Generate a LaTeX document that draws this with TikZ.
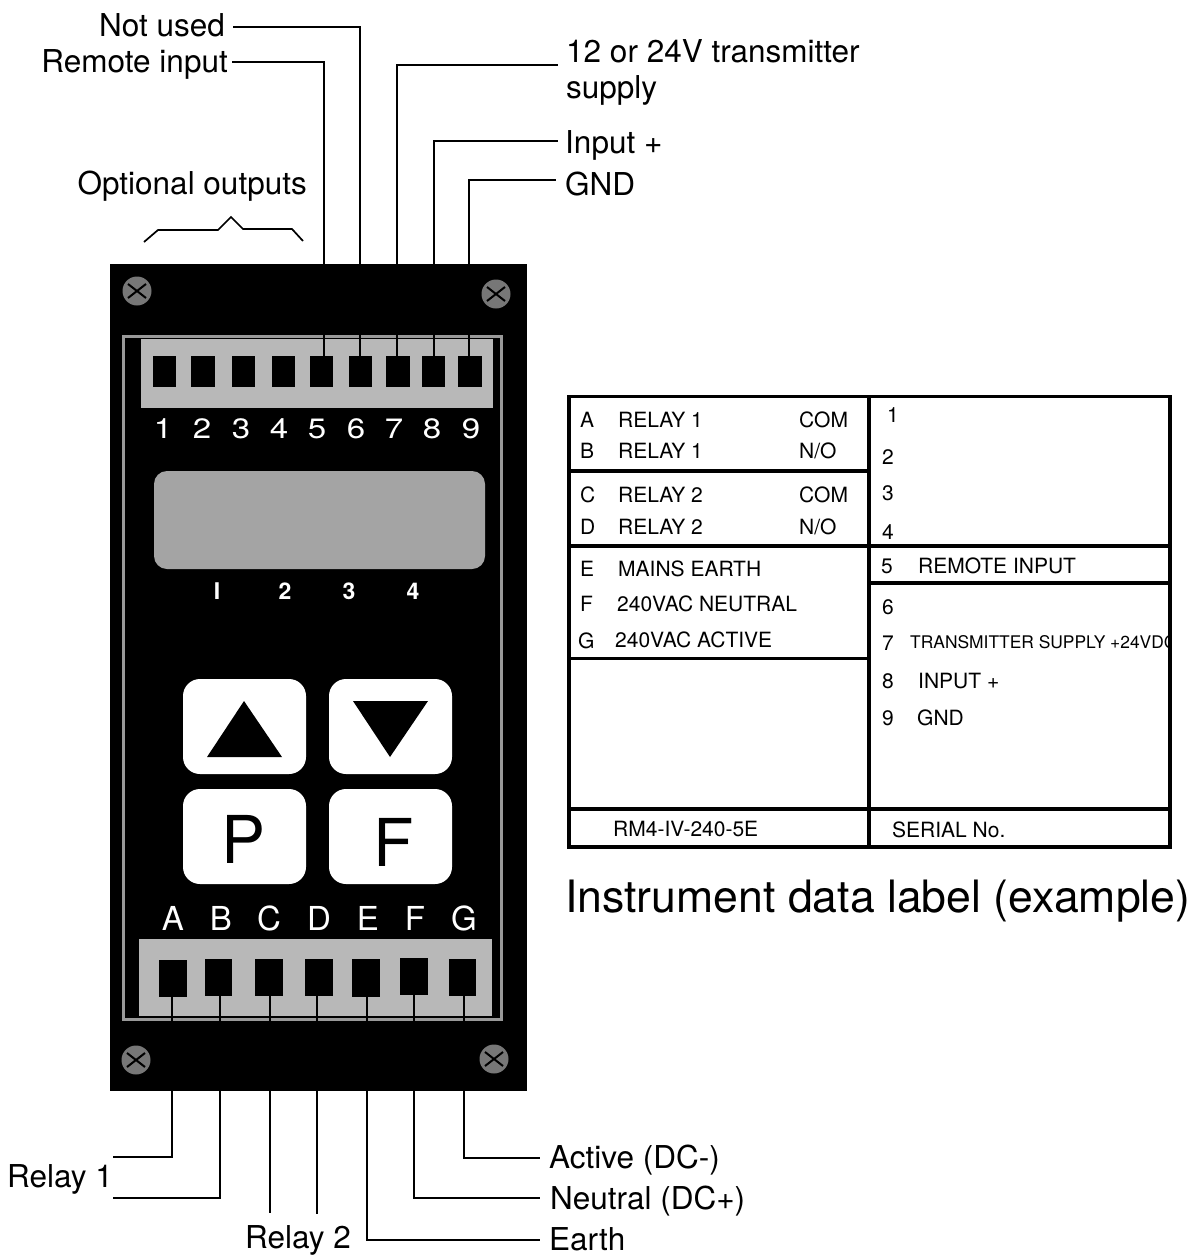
\documentclass[tikz,border=0pt]{standalone}
\usepackage{fontspec}
\setmainfont{TeX Gyre Heros}
\newfontfamily\widefont[FakeStretch=1.18]{TeX Gyre Heros}
\newcommand{\fsz}[1]{\fontsize{#1}{#1}\selectfont}
\definecolor{termgrey}{HTML}{B8B8B8}
\definecolor{dispgrey}{HTML}{A4A4A4}
\definecolor{framegrey}{HTML}{999999}
\definecolor{screwgrey}{HTML}{777777}
\tikzset{
  lab/.style={font=\fsz{31.5},inner sep=0pt,anchor=base west},
  labr/.style={font=\fsz{31.5},inner sep=0pt,anchor=base east},
  wire/.style={line width=1.9pt,black},
  tnum/.style={font=\widefont\fsz{28},text=white,inner sep=0pt,anchor=base},
  dnum/.style={font=\bfseries\fsz{23},text=white,inner sep=0pt,anchor=base},
  tlet/.style={font=\fsz{33},text=white,inner sep=0pt,anchor=base},
  hole/.style={fill=black,draw=none},
  btn/.style={fill=white,rounded corners=17pt},
  tab/.style={font=\fsz{21},inner sep=0pt,anchor=base west},
  rule/.style={line width=3.2pt,black},
  screwx/.style={line width=2pt,black}
}
\newcommand{\screw}[3]{%
  \node[circle,fill=screwgrey,minimum size=29pt,inner sep=0pt] (#3) at (#1,#2) {};
  \draw[screwx] ([shift={(-9,-7)}]#3.center) -- ([shift={(9,7)}]#3.center);
  \draw[screwx] ([shift={(-9,7)}]#3.center) -- ([shift={(9,-7)}]#3.center);
}
\begin{document}
\begin{tikzpicture}[x=1pt,y=-1pt]
\useasboundingbox (0,0) rectangle (1201,1255);
% panel
\fill[black] (110,264) rectangle (527,1091);
\draw[framegrey,line width=3pt] (123,336.5) rectangle (501,1019);
\fill[termgrey] (141,339) rectangle (493,408);
\fill[termgrey] (139,939) rectangle (492,1016);
% top holes
\foreach \a/\b/\n in {153/176/1,191/215/2,232/255/3,272/295/4,310/333/5,349/372/6,386/410/7,422/445/8,458/482/9}
  \fill[hole] (\a,356) rectangle (\b,387);
\foreach \x/\t in {163/1,202/2,241/3,279/4,317/5,356/6,394/7,432/8,471/9}
  \node[tnum] at (\x,438) {\t};
% display
\fill[dispgrey,rounded corners=13pt] (154,471) rectangle (485,569);
\node[dnum] at (217,599) {I};
\node[dnum] at (285,599) {2};
\node[dnum] at (349,599) {3};
\node[dnum] at (413,599) {4};
% buttons
\fill[btn] (183,679) rectangle (306,774);
\fill[btn] (329,679) rectangle (452,774);
\fill[btn] (183,789) rectangle (306,884);
\fill[btn] (329,789) rectangle (452,884);
\fill[black] (244,701) -- (282,757) -- (207,757) -- cycle;
\fill[black] (353,701) -- (428,701) -- (390,757) -- cycle;
\node[font=\fsz{66},inner sep=0pt,anchor=base] (bp) at (244,863) {P};
\node[font=\fsz{66},inner sep=0pt,anchor=base] (bf) at (394,866) {F};
% bottom
\foreach \x/\t in {173/A,221/B,269/C,319/D,368/E,415/F,464/G}
  \node[tlet] at (\x,930) {\t};
\foreach \a/\b/\c/\d in {159/187/960/997,205/232/959/996,255/283/959/996,305/333/959/996,352/380/959/997,400/428/958/995,449/476/959/996}
  \fill[hole] (\a,\c) rectangle (\b,\d);
% screws
\screw{137}{291}{s1}
\screw{496}{294}{s2}
\screw{136}{1060}{s3}
\screw{494}{1059}{s4}
% labels
\node[labr] (lnot) at (225,37) {Not used};
\node[labr] (lrem) at (228,73) {Remote input};
\node[lab] (lsup) at (566,63) {12 or 24V transmitter};
\node[lab] at (566,98) {supply};
\node[lab] (linp) at (565,153) {Input +};
\node[lab] (lgnd) at (565,195) {GND};
\node[labr] (lopt) at (307,194) {Optional outputs};
\node[labr] (lr1) at (113,1187) {Relay 1};
\node[lab] (lr2) at (245,1248) {Relay 2};
\node[lab] (lact) at (549,1168) {Active (DC-)};
\node[lab] (lneu) at (550,1209) {Neutral (DC+)};
\node[lab] (lear) at (549,1250) {Earth};
% wire end points
\coordinate (t5) at (324,356); \coordinate (e5) at (232,62);
\coordinate (t6) at (360,356); \coordinate (e6) at (233,27);
\coordinate (t7) at (397,356); \coordinate (e7) at (558,65);
\coordinate (t8) at (434,356); \coordinate (e8) at (558,141);
\coordinate (t9) at (469,356); \coordinate (e9) at (556,180);
\coordinate (bA) at (172,997); \coordinate (eA) at (113,1157);
\coordinate (bB) at (220,996); \coordinate (eB) at (113,1198);
\coordinate (bC) at (270,996); \coordinate (eC) at (270,1213);
\coordinate (bD) at (317,996); \coordinate (eD) at (317,1214);
\coordinate (bE) at (367,997); \coordinate (eE) at (540,1240);
\coordinate (bF) at (414,995); \coordinate (eF) at (540,1198);
\coordinate (bG) at (464,996); \coordinate (eG) at (540,1158);
\foreach \p in {5,6,7,8,9} \draw[wire] (t\p) |- (e\p);
\foreach \p in {A,B,E,F,G} \draw[wire] (b\p) |- (e\p);
\foreach \p in {C,D} \draw[wire] (b\p) -- (e\p);
% brace
\draw[line width=1.7pt] (144,242) -- (158,230) -- (218,230) -- (231,217) -- (243,229) -- (292,229) -- (303,241);
% data label
\begin{scope}
\clip (569,396) rectangle (1170,848);
\node[tab,font=\fsz{17.4}] at (910,648) {TRANSMITTER SUPPLY +24VDC};
\end{scope}
\draw[rule] (569,396.5) rectangle (1170,847);
\draw[rule] (869,396) -- (869,847);
\draw[rule] (569,471) -- (869,471);
\draw[rule] (569,546) -- (1170,546);
\draw[rule] (869,583) -- (1170,583);
\draw[rule] (569,658.5) -- (869,658.5);
\draw[rule] (569,809) -- (1170,809);
\foreach \y/\a/\b/\c in {427.5/A/RELAY 1/COM,458.5/B/RELAY 1/N\slash O,502/C/RELAY 2/COM,534/D/RELAY 2/N\slash O}{
  \node[tab] at (580,\y) {\a};
  \node[tab] at (618,\y) {\b};
  \node[tab] at (799,\y) {\c};
}
\node[tab] at (580,576) {E};
\node[tab] at (618,576) {MAINS EARTH};
\node[tab] at (580,611.5) {F};
\node[tab] at (617,611.5) {240VAC NEUTRAL};
\node[tab] at (578,648) {G};
\node[tab] at (615,647) {240VAC ACTIVE};
\node[tab] at (613,836) {RM4-IV-240-5E};
\node[tab] at (892,837) {SERIAL No.};
\foreach \x/\y/\t in {887/422/1,882/464/2,882/500/3,882/539/4,881/573/5,882/614/6,882/650/7,882/688/8,882/725/9}
  \node[tab] at (\x,\y) {\t};
\node[tab] at (918,573) {REMOTE INPUT};
\node[tab] at (918,688) {INPUT +};
\node[tab] at (917,725) {GND};
\node[font=\fsz{44.6},inner sep=0pt,anchor=base west] (ttl) at (565,912) {Instrument data label (example)};
\end{tikzpicture}
\end{document}
